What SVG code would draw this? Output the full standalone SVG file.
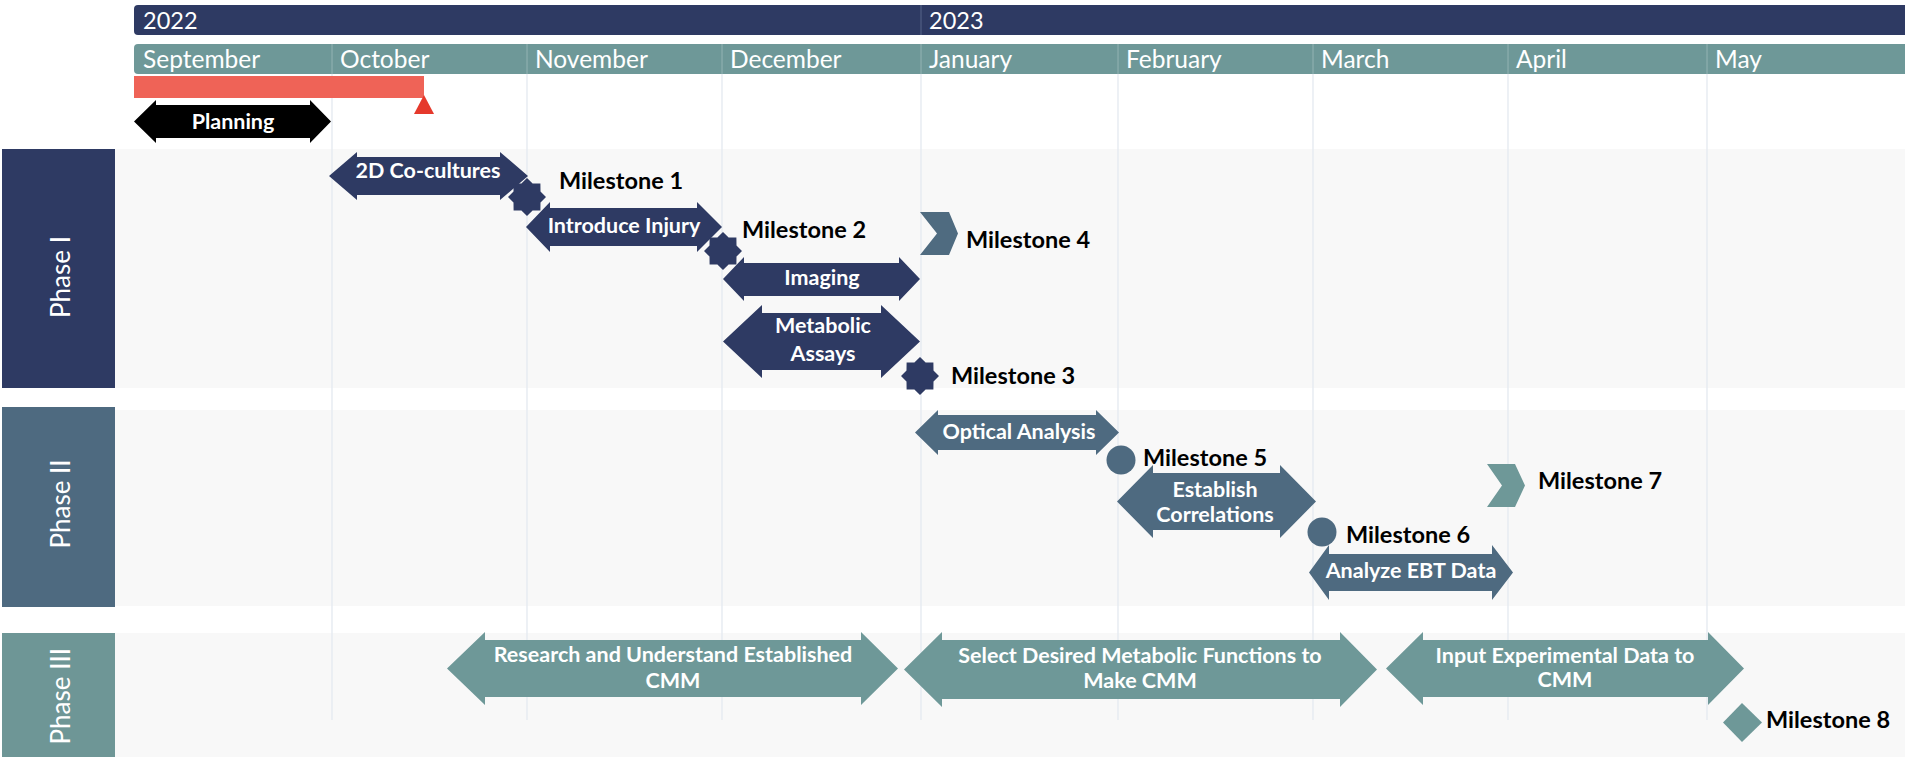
<svg xmlns="http://www.w3.org/2000/svg" width="1905" height="757" viewBox="0 0 1905 757">
  <style>
    .yr { font-family: Lato, "Liberation Sans", sans-serif; font-size: 23.5px; fill: #ffffff; }
    .mo { font-family: Lato, "Liberation Sans", sans-serif; font-size: 24.5px; fill: #ffffff; }
    .ph { font-family: Lato, "Liberation Sans", sans-serif; font-size: 26px; fill: #ffffff; }
    .task { font-family: Lato, "Liberation Sans", sans-serif; font-size: 21.5px; font-weight: 700; fill: #ffffff; text-anchor: middle; }
    .ms { font-family: Lato, "Liberation Sans", sans-serif; font-size: 23.5px; font-weight: 700; fill: #000000; }
    .p1 { fill: #2E3A63; }
    .p2 { fill: #4E6A80; }
    .p3 { fill: #6E9898; }
    .band { fill: #F8F8F8; }
    .grid line { stroke: #E3E9F0; stroke-width: 1.3; }
  </style>

  <rect width="1905" height="757" fill="#ffffff"/>

  <!-- swimlane bands -->
  <g id="bands">
    <rect class="band" x="115" y="149" width="1790" height="239"/>
    <rect class="band" x="115" y="410" width="1790" height="196"/>
    <rect class="band" x="115" y="633" width="1790" height="124"/>
  </g>

  <!-- month grid -->
  <g id="gridlines" class="grid">
    <line x1="332" y1="74" x2="332" y2="720"/>
    <line x1="527" y1="74" x2="527" y2="720"/>
    <line x1="722" y1="74" x2="722" y2="720"/>
    <line x1="921" y1="74" x2="921" y2="720"/>
    <line x1="1118" y1="74" x2="1118" y2="720"/>
    <line x1="1313" y1="74" x2="1313" y2="720"/>
    <line x1="1508" y1="74" x2="1508" y2="720"/>
    <line x1="1707" y1="74" x2="1707" y2="720"/>
  </g>

  <!-- time scale -->
  <g id="scale">
    <rect x="134" y="5" width="1780" height="30" rx="4" fill="#2E3A63"/>
    <line x1="921" y1="5" x2="921" y2="35" stroke="#56648A" stroke-width="1"/>
    <text class="yr" x="143" y="29">2022</text>
    <text class="yr" x="929" y="29">2023</text>
    <rect x="134" y="44" width="1780" height="30" rx="4" fill="#6E9898"/>
    <g stroke="#93B3B3" stroke-width="1">
      <line x1="332" y1="44" x2="332" y2="74"/>
      <line x1="527" y1="44" x2="527" y2="74"/>
      <line x1="722" y1="44" x2="722" y2="74"/>
      <line x1="921" y1="44" x2="921" y2="74"/>
      <line x1="1118" y1="44" x2="1118" y2="74"/>
      <line x1="1313" y1="44" x2="1313" y2="74"/>
      <line x1="1508" y1="44" x2="1508" y2="74"/>
      <line x1="1707" y1="44" x2="1707" y2="74"/>
    </g>
    <text class="mo" x="143" y="68">September</text>
    <text class="mo" x="340" y="68">October</text>
    <text class="mo" x="535" y="68">November</text>
    <text class="mo" x="730" y="68">December</text>
    <text class="mo" x="929" y="68">January</text>
    <text class="mo" x="1126" y="68">February</text>
    <text class="mo" x="1321" y="68">March</text>
    <text class="mo" x="1516" y="68">April</text>
    <text class="mo" x="1715" y="68">May</text>
  </g>

  <!-- today marker -->
  <g id="today">
    <rect x="134" y="76" width="290" height="22" fill="#EF6357"/>
    <polygon points="424,95 434,114 414,114" fill="#E5392C"/>
  </g>

  <!-- phase headers -->
  <g id="phase-1">
    <rect class="p1" x="2" y="149" width="113" height="239"/>
    <text class="ph" text-anchor="middle" transform="translate(70,277) rotate(-90)">Phase I</text>
  </g>
  <g id="phase-2">
    <rect class="p2" x="2" y="407" width="113" height="200"/>
    <text class="ph" text-anchor="middle" transform="translate(70,504) rotate(-90)">Phase II</text>
  </g>
  <g id="phase-3">
    <rect x="2" y="633" width="113" height="124" fill="#6E9696"/>
    <text class="ph" text-anchor="end" transform="translate(70,648) rotate(-90)">Phase III</text>
  </g>

  <!-- tasks -->
  <g id="task-planning">
    <polygon fill="#000000" points="134,121.5 156,100 156,105 310,105 310,100 331,121.5 310,143 310,138 156,138 156,143"/>
    <text class="task" x="233" y="129">Planning</text>
  </g>
  <g id="task-2d-cocultures">
    <polygon class="p1" points="329,176 357,152 357,157 500,157 500,152 528,176 500,200 500,195 357,195 357,200"/>
    <text class="task" x="428" y="178">2D Co-cultures</text>
  </g>
  <g id="task-introduce-injury">
    <polygon class="p1" points="526,227 550,202 550,208 697,208 697,202 722,227 697,252 697,246 550,246 550,252"/>
    <text class="task" x="624" y="233">Introduce Injury</text>
  </g>
  <g id="task-imaging">
    <polygon class="p1" points="723,279 744,257 744,263 899,263 899,257 920,279 899,301 899,296 744,296 744,301"/>
    <text class="task" x="822" y="285">Imaging</text>
  </g>
  <g id="task-metabolic-assays">
    <polygon class="p1" points="723,341.5 762,305 762,313 881,313 881,305 920,341.5 881,378 881,370 762,370 762,378"/>
    <text class="task" x="823" y="333">Metabolic</text>
    <text class="task" x="823" y="361">Assays</text>
  </g>
  <g id="task-optical-analysis">
    <polygon class="p2" points="915,432.5 938,410 938,415 1096,415 1096,410 1119,432.5 1096,455 1096,450 938,450 938,455"/>
    <text class="task" x="1019" y="439">Optical Analysis</text>
  </g>
  <g id="task-establish-correlations">
    <polygon class="p2" points="1117,501.5 1153,465 1153,473 1280,473 1280,465 1316,501.5 1280,538 1280,530 1153,530 1153,538"/>
    <text class="task" x="1215" y="497">Establish</text>
    <text class="task" x="1215" y="522">Correlations</text>
  </g>
  <g id="task-analyze-ebt">
    <polygon class="p2" points="1309,572.5 1329,545 1329,554 1492,554 1492,545 1513,572.5 1492,600 1492,591 1329,591 1329,600"/>
    <text class="task" x="1411" y="578">Analyze EBT Data</text>
  </g>
  <g id="task-research-cmm">
    <polygon class="p3" points="447,668.5 485,632 485,640 861,640 861,632 898,668.5 861,705 861,697 485,697 485,705"/>
    <text class="task" x="673" y="662">Research and Understand Established</text>
    <text class="task" x="673" y="688">CMM</text>
  </g>
  <g id="task-select-functions">
    <polygon class="p3" points="904,669.5 942,632 942,640 1340,640 1340,632 1377,669.5 1340,707 1340,699 942,699 942,707"/>
    <text class="task" x="1140" y="663">Select Desired Metabolic Functions to</text>
    <text class="task" x="1140" y="688">Make CMM</text>
  </g>
  <g id="task-input-data">
    <polygon class="p3" points="1386,668.5 1423,632 1423,640 1708,640 1708,632 1744,668.5 1708,705 1708,697 1423,697 1423,705"/>
    <text class="task" x="1565" y="663">Input Experimental Data to</text>
    <text class="task" x="1565" y="687">CMM</text>
  </g>

  <!-- milestones -->
  <defs>
    <polygon id="star8" points="0,-19 5.6,-13.5 13.4,-13.4 13.5,-5.6 19,0 13.5,5.6 13.4,13.4 5.6,13.5 0,19 -5.6,13.5 -13.4,13.4 -13.5,5.6 -19,0 -13.5,-5.6 -13.4,-13.4 -5.6,-13.5"/>
  </defs>
  <g id="milestone-1">
    <use href="#star8" x="527" y="197" class="p1"/>
    <text class="ms" x="559" y="189">Milestone 1</text>
  </g>
  <g id="milestone-2">
    <use href="#star8" x="723" y="251" class="p1"/>
    <text class="ms" x="742" y="238">Milestone 2</text>
  </g>
  <g id="milestone-3">
    <use href="#star8" x="920" y="376" class="p1"/>
    <text class="ms" x="951" y="384">Milestone 3</text>
  </g>
  <g id="milestone-4">
    <polygon points="920,212 949,212 958,233.5 949,255 920,255 937,233.5" fill="#4F6B80"/>
    <text class="ms" x="966" y="248">Milestone 4</text>
  </g>
  <g id="milestone-5">
    <circle class="p2" cx="1121" cy="460" r="14.5"/>
    <text class="ms" x="1143" y="466">Milestone 5</text>
  </g>
  <g id="milestone-6">
    <circle class="p2" cx="1322" cy="532" r="14.5"/>
    <text class="ms" x="1346" y="543">Milestone 6</text>
  </g>
  <g id="milestone-7">
    <polygon class="p3" points="1487,464 1515,464 1525,485.5 1515,507 1487,507 1502,485.5"/>
    <text class="ms" x="1538" y="489">Milestone 7</text>
  </g>
  <g id="milestone-8">
    <polygon class="p3" points="1742,703 1762,722.5 1742,742 1723,722.5"/>
    <text class="ms" x="1766" y="728">Milestone 8</text>
  </g>

  <g id="connectors"/>
</svg>
